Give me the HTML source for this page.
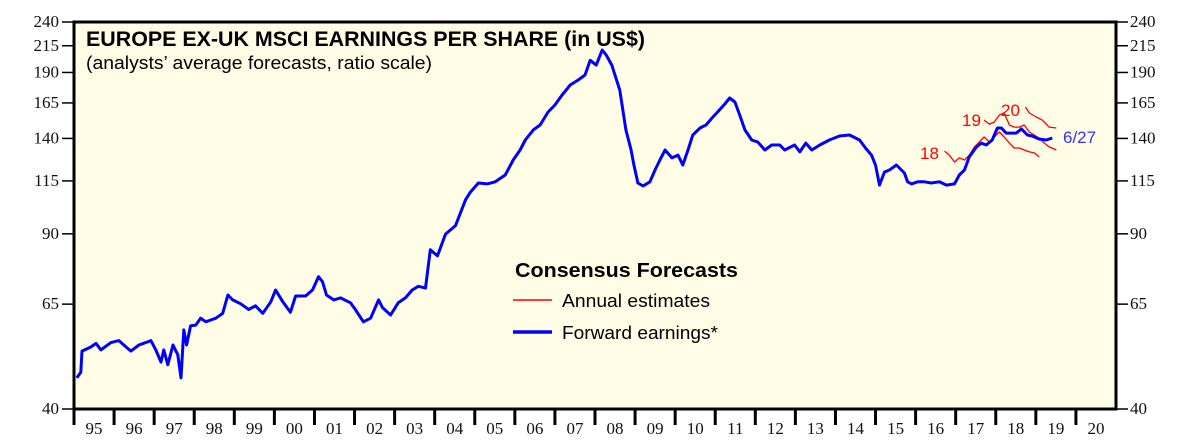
<!DOCTYPE html>
<html><head><meta charset="utf-8"><style>
html,body{margin:0;padding:0;background:#fff;}
svg{display:block;}
.tk{font-family:"Liberation Serif",serif;font-size:17px;fill:#111;}
.sans{font-family:"Liberation Sans",sans-serif;}
</style></head><body>
<svg id="chart" width="1190" height="443" viewBox="0 0 1190 443" xmlns="http://www.w3.org/2000/svg">
<rect x="74" y="22" width="1042" height="387" fill="#fffde6"/>
<g id="grid"></g>
<g id="series"></g>
<rect x="74" y="22" width="1042" height="387" fill="none" stroke="#000" stroke-width="3"/>
<g id="axes"></g>
<text class="sans" x="86" y="46" font-size="21" font-weight="bold" fill="#000" textLength="559" lengthAdjust="spacingAndGlyphs">EUROPE EX-UK MSCI EARNINGS PER SHARE (in US$)</text>
<text class="sans" x="86" y="69" font-size="18" fill="#000" textLength="346" lengthAdjust="spacingAndGlyphs">(analysts’ average forecasts, ratio scale)</text>
<g>
<text class="sans" x="515" y="277" font-size="20" font-weight="bold" fill="#000" textLength="223" lengthAdjust="spacingAndGlyphs">Consensus Forecasts</text>
<line x1="513" y1="300" x2="552" y2="300" stroke="#f00" stroke-width="1.5"/>
<text class="sans" x="562" y="307" font-size="18" fill="#000" textLength="148" lengthAdjust="spacingAndGlyphs">Annual estimates</text>
<line x1="513" y1="332" x2="552" y2="332" stroke="#00f" stroke-width="3.5"/>
<text class="sans" x="562" y="339" font-size="18" fill="#000" textLength="156" lengthAdjust="spacingAndGlyphs">Forward earnings*</text>
</g>
<text class="sans" x="920" y="159" font-size="17" fill="#f00">18</text>
<text class="sans" x="962" y="126" font-size="17" fill="#f00">19</text>
<text class="sans" x="1001" y="116" font-size="17" fill="#f00">20</text>
<text class="sans" x="1063" y="143" font-size="17" fill="#33f">6/27</text>
</svg>
<script>
const yTicks=[40,65,90,115,140,165,190,215,240];
const yearLabels=["95","96","97","98","99","00","01","02","03","04","05","06","07","08","09","10","11","12","13","14","15","16","17","18","19","20"];
const fwdYears=[1995.07,1995.17,1995.2,1995.42,1995.55,1995.67,1995.92,1996.12,1996.3,1996.42,1996.62,1996.79,1996.92,1997.04,1997.17,1997.24,1997.34,1997.47,1997.59,1997.67,1997.74,1997.81,1997.91,1998.04,1998.16,1998.29,1998.41,1998.54,1998.71,1998.84,1998.96,1999.16,1999.36,1999.53,1999.71,1999.91,2000.03,2000.21,2000.4,2000.53,2000.78,2000.95,2001.1,2001.2,2001.3,2001.48,2001.65,2001.9,2002.02,2002.22,2002.4,2002.6,2002.7,2002.9,2003.09,2003.27,2003.44,2003.59,2003.77,2003.89,2004.07,2004.27,2004.52,2004.77,2004.89,2005.09,2005.31,2005.51,2005.76,2005.96,2006.13,2006.26,2006.46,2006.63,2006.83,2007.0,2007.18,2007.38,2007.58,2007.75,2007.88,2008.03,2008.18,2008.28,2008.42,2008.62,2008.77,2008.9,2008.97,2009.07,2009.2,2009.37,2009.5,2009.62,2009.75,2009.92,2010.07,2010.19,2010.32,2010.44,2010.62,2010.77,2010.92,2011.06,2011.24,2011.36,2011.49,2011.61,2011.74,2011.91,2012.06,2012.24,2012.41,2012.61,2012.73,2012.98,2013.11,2013.26,2013.41,2013.61,2013.85,2014.1,2014.35,2014.6,2014.75,2014.9,2015.0,2015.1,2015.22,2015.35,2015.52,2015.72,2015.8,2015.9,2016.05,2016.22,2016.39,2016.59,2016.77,2016.97,2017.09,2017.22,2017.34,2017.52,2017.64,2017.76,2017.91,2018.04,2018.14,2018.26,2018.39,2018.51,2018.64,2018.79,2018.91,2019.08,2019.26,2019.41,2019.53];
const fwdValues=[46.2,47.4,52.3,53.3,54.2,52.6,54.4,54.9,53.3,52.3,53.8,54.4,54.9,52.6,49.7,52.6,49.1,53.8,51.4,46.2,57.7,53.8,58.8,59.0,60.9,59.9,60.4,60.9,62.3,67.8,66.3,65.1,63.4,64.5,62.3,65.7,69.4,65.7,62.6,67.5,67.5,69.4,73.8,72.1,67.8,66.3,66.9,65.4,63.4,59.9,60.9,66.3,63.9,61.8,65.4,66.9,69.4,70.6,70.0,83.6,81.3,89.9,93.5,105.4,109.2,113.9,113.4,114.5,118.2,126.7,132.7,139,145.6,149,158.2,163.4,171.2,179.3,183.5,187.8,201,196.6,210.8,206,196.6,175,145.6,132.7,123.8,113.9,112.3,114.5,121,126.7,132.7,127.9,129.6,123.8,132.7,142.2,146.9,149,153.9,158.2,164.2,168.8,165.7,156,145.6,139,137.7,132.7,135.8,135.8,132.7,135.8,131.5,137,132.7,135.8,139,141.6,142.2,139,133.9,129.6,123.8,112.8,119.8,121,123.8,119.3,114.5,113.4,114.5,114.5,113.9,114.5,112.8,113.4,118.2,121,128.5,134.6,137,135.8,139,146.9,146.9,143.5,143.5,143.5,146.3,142.2,141.6,139.6,139,140.3];
const est18Years=[2016.72,2016.84,2016.97,2017.09,2017.22,2017.34,2017.47,2017.59,2017.71,2017.84,2017.96,2018.09,2018.21,2018.34,2018.46,2018.59,2018.71,2018.84,2018.96,2019.08];
const est18Values=[132,129.6,125.5,127.9,126.7,129.6,134.6,137.7,140.9,137.7,140.9,144.2,140.9,137,133.9,133.9,132.7,131.5,130.9,128.5];
const est19Years=[2017.71,2017.84,2017.96,2018.09,2018.21,2018.34,2018.46,2018.59,2018.71,2018.84,2018.96,2019.08,2019.21,2019.33,2019.51];
const est19Values=[152.4,149.6,151,156,157.5,149,147.5,147.5,149,144.2,142.2,140.3,137,134.6,132.7];
const est20Years=[2018.74,2018.84,2019.01,2019.16,2019.33,2019.51];
const est20Values=[161.9,157.5,154.6,152.4,147.5,146.9];

const NS="http://www.w3.org/2000/svg";
const X0=74,X1=1116,Y0=409,Y1=22,yr0=1995,yr1=2021;
function xs(t){return X0+(t-yr0)/(yr1-yr0)*(X1-X0);}
function ys(v){return Y0-Math.log(v/40)/Math.log(240/40)*(Y0-Y1);}
function mk(tag,attrs,parent){const e=document.createElementNS(NS,tag);for(const k in attrs)e.setAttribute(k,attrs[k]);parent.appendChild(e);return e;}
const axes=document.getElementById('axes'),series=document.getElementById('series');
yTicks.forEach(v=>{
  const y=ys(v);
  const l=mk('line',{x1:X0-12,x2:X0,y1:y,y2:y,stroke:'#000','stroke-width':1.5},axes);
  
  
  const r=mk('line',{x1:X1,x2:X1+12,y1:y,y2:y,stroke:'#000','stroke-width':1.5},axes);
  
  
  const t=mk('text',{x:X0-15,y:y+5,'text-anchor':'end',class:'tk'},axes);t.textContent=v;
  
  
  const t2=mk('text',{x:X1+14,y:y+5,'text-anchor':'start',class:'tk'},axes);t2.textContent=v;
  
  
});
yearLabels.forEach((lab,i)=>{
  const xa=xs(yr0+i);
  if(i>0){const l=mk('line',{x1:xa,x2:xa,y1:Y0,y2:Y0+16,stroke:'#000','stroke-width':3},axes);
  
  }
  const t=mk('text',{x:xs(yr0+i+0.5),y:Y0+25,'text-anchor':'middle',class:'tk'},axes);t.textContent=lab;
  
  
});
const l0=mk('line',{x1:X0,x2:X0,y1:Y0,y2:Y0+16,stroke:'#000','stroke-width':3},axes);


function path(yrs,vals,color,w,name){
  const d=yrs.map((t,i)=>(i?'L':'M')+xs(t).toFixed(1)+','+ys(vals[i]).toFixed(1)).join('');
  const p=mk('path',{d:d,fill:'none',stroke:color,'stroke-width':w,'stroke-linejoin':'round'},series);
  
  
}
path(est18Years,est18Values,'#f00',1.3,'annual-estimate-2018-line');
path(est19Years,est19Values,'#f00',1.3,'annual-estimate-2019-line');
path(est20Years,est20Values,'#f00',1.3,'annual-estimate-2020-line');
path(fwdYears,fwdValues,'#00f',3,'forward-earnings-line');
</script>
</body></html>
